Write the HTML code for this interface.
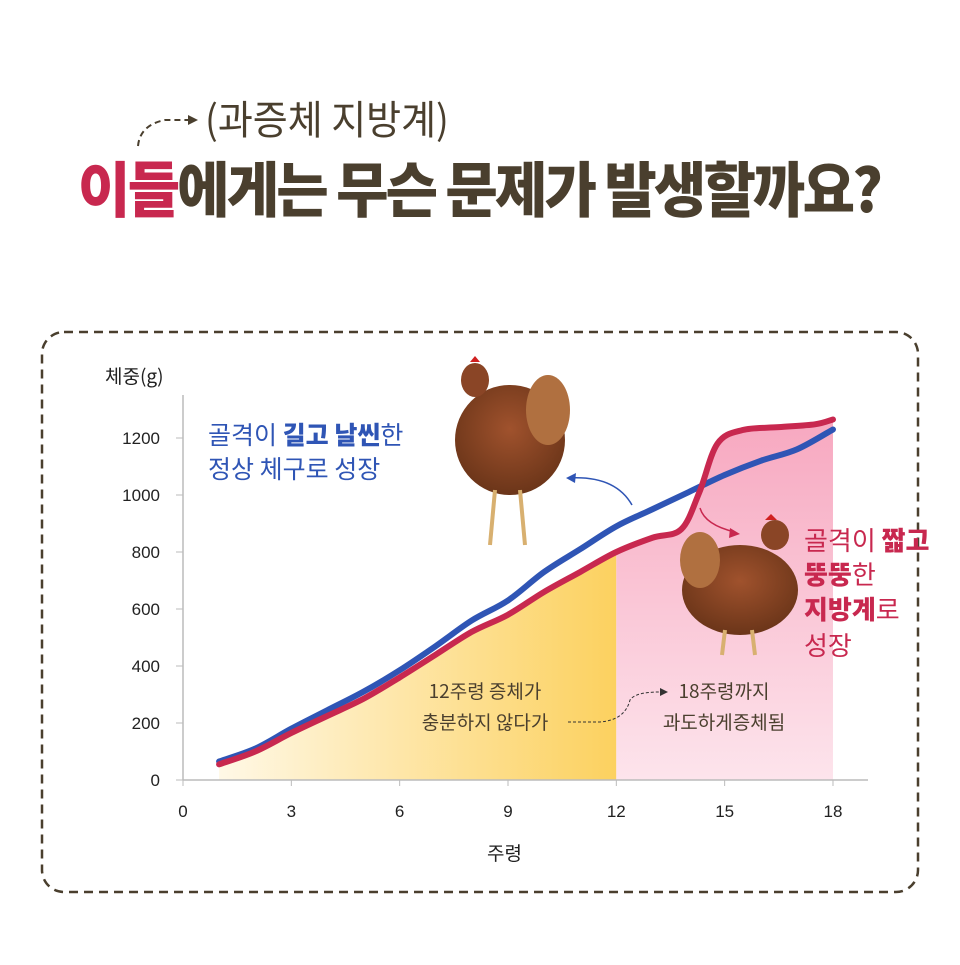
<!DOCTYPE html>
<html><head><meta charset="utf-8"><style>
body{margin:0;background:#fff;width:960px;height:960px;overflow:hidden;font-family:"Liberation Sans","Noto Sans CJK KR",sans-serif}
</style></head><body>
<svg id="s" width="960" height="960" xmlns="http://www.w3.org/2000/svg" font-family="Liberation Sans, Noto Sans CJK KR, sans-serif">
<defs>
<linearGradient id="yg" x1="0" y1="0" x2="1" y2="0"><stop offset="0" stop-color="#fff8e6"/><stop offset="1" stop-color="#fcd15f"/></linearGradient>
<linearGradient id="pg" x1="0" y1="0" x2="0" y2="1"><stop offset="0" stop-color="#f7a8c0"/><stop offset="1" stop-color="#fde4ec"/></linearGradient>
<radialGradient id="ch" cx="0.5" cy="0.4" r="0.6"><stop offset="0" stop-color="#a0522d"/><stop offset="1" stop-color="#6b3519"/></radialGradient>
</defs>
<path d="M138 146 Q140 125 165 120 L188 120" fill="none" stroke="#4a3f2e" stroke-width="2" stroke-dasharray="6,4"/>
<polygon points="188,115 198,120 188,125" fill="#4a3f2e"/>
<g transform="translate(205,134) scale(0.95,1)">
<text x="0" y="0" font-size="40" fill="#4a3f2e" font-family="Noto Sans CJK KR, sans-serif" font-weight="400">(과증체 지방계)</text>
</g>
<g transform="translate(78,212) scale(0.95,1)">
<text x="0" y="0" font-size="60" font-weight="900" font-family="Noto Sans CJK KR, sans-serif" fill="#4a3f2e" letter-spacing="-3"><tspan fill="#c8284f">이들</tspan>에게는 무슨 문제가 발생할까요?</text>
</g>
<rect x="42" y="332" width="876" height="560" rx="22" fill="none" stroke="#4a3f2e" stroke-width="2.5" stroke-dasharray="9,6"/>
<g id="fills"></g>
<line x1="183" y1="395" x2="183" y2="780" stroke="#bbb" stroke-width="1.5"/>
<line x1="183" y1="780" x2="868" y2="780" stroke="#bbb" stroke-width="1.5"/>
<g id="ticks" font-size="17" fill="#222"></g>
<text x="105" y="383" font-size="19" fill="#222" font-family="Noto Sans CJK KR, sans-serif">체중(g)</text>
<text x="487" y="860" font-size="19" fill="#222" font-family="Noto Sans CJK KR, sans-serif">주령</text>
<g id="lines"></g>
<g>
<ellipse cx="510" cy="440" rx="55" ry="55" fill="url(#ch)"/>
<ellipse cx="548" cy="410" rx="22" ry="35" fill="#b07040"/>
<ellipse cx="475" cy="380" rx="14" ry="17" fill="#8a4526"/>
<path d="M470 362 l5 -6 l5 6 z" fill="#d02020"/>
<line x1="495" y1="490" x2="490" y2="545" stroke="#d8b070" stroke-width="4"/>
<line x1="520" y1="490" x2="525" y2="545" stroke="#d8b070" stroke-width="4"/>
</g>
<g>
<ellipse cx="740" cy="590" rx="58" ry="45" fill="url(#ch)"/>
<ellipse cx="700" cy="560" rx="20" ry="28" fill="#b07040"/>
<ellipse cx="775" cy="535" rx="14" ry="15" fill="#8a4526"/>
<path d="M765 520 l6 -6 l6 6 z" fill="#d02020"/>
<line x1="725" y1="630" x2="722" y2="655" stroke="#d8b070" stroke-width="4"/>
<line x1="752" y1="630" x2="755" y2="655" stroke="#d8b070" stroke-width="4"/>
</g>
<path d="M632 505 Q615 475 568 478" fill="none" stroke="#2f55b5" stroke-width="1.5"/>
<polygon points="566,478 576,473 575,483" fill="#2f55b5"/>
<path d="M700 508 Q705 525 735 532" fill="none" stroke="#c8284f" stroke-width="1.5"/>
<polygon points="740,534 730,528 729,538" fill="#c8284f"/>
<text font-size="25" fill="#2f55b5" font-family="Noto Sans CJK KR, sans-serif"><tspan x="208" y="444">골격이 <tspan font-weight="900">길고 날씬</tspan>한</tspan><tspan x="208" y="478">정상 체구로 성장</tspan></text>
<text font-size="26" fill="#c8284f" font-family="Noto Sans CJK KR, sans-serif"><tspan x="804" y="550">골격이 <tspan font-weight="900">짧고</tspan></tspan><tspan x="804" y="584"><tspan font-weight="900">뚱뚱</tspan>한</tspan><tspan x="804" y="619"><tspan font-weight="900">지방계</tspan>로</tspan><tspan x="804" y="655">성장</tspan></text>
<text font-size="19" fill="#4a3f2e" font-family="Noto Sans CJK KR, sans-serif" text-anchor="middle"><tspan x="485" y="698">12주령 증체가</tspan><tspan x="485" y="729">충분하지 않다가</tspan></text>
<text font-size="19" fill="#4a3f2e" font-family="Noto Sans CJK KR, sans-serif" text-anchor="middle"><tspan x="724" y="698">18주령까지</tspan><tspan x="724" y="729">과도하게증체됨</tspan></text>
<path d="M568 722 L600 722 Q625 720 630 700 Q635 692 660 692" fill="none" stroke="#333" stroke-width="1" stroke-dasharray="3,2"/>
<polygon points="660,688 668,692 660,696" fill="#333"/>
</svg>
<script>
var X=w=>183+36.11*w, Y=g=>780-0.285*g;
var blue=[[1,65],[2,110],[3,180],[4,245],[5,310],[6,385],[7,470],[8,560],[9,630],[10,730],[11,810],[12,890],[13,950],[14,1010],[15,1070],[16,1120],[17,1160],[18,1230]];
var red=[[1,55],[2,100],[3,165],[4,225],[5,285],[6,360],[7,440],[8,520],[9,580],[10,660],[11,730],[12,800],[13,850],[13.8,880],[14.3,1010],[14.8,1180],[15.5,1228],[16.5,1238],[17.5,1248],[18,1265]];
function path(p){p=p.map(a=>[X(a[0]),Y(a[1])]);var d="M"+p[0][0]+" "+p[0][1];
for(var i=0;i<p.length-1;i++){var p0=p[i-1]||p[i],p1=p[i],p2=p[i+1],p3=p[i+2]||p2;
d+=" C"+(p1[0]+(p2[0]-p0[0])/6)+" "+(p1[1]+(p2[1]-p0[1])/6)+" "+(p2[0]-(p3[0]-p1[0])/6)+" "+(p2[1]-(p3[1]-p1[1])/6)+" "+p2[0]+" "+p2[1];}return d;}
var ns="http://www.w3.org/2000/svg";
function el(t,a,par){var e=document.createElementNS(ns,t);for(var k in a)e.setAttribute(k,a[k]);document.getElementById(par).appendChild(e);return e;}
var r1=red.filter(a=>a[0]<=12), r2=red.filter(a=>a[0]>=12);
el("path",{d:path(r1)+" L"+X(12)+" 780 L"+X(1)+" 780 Z",fill:"url(#yg)"},"fills");
el("path",{d:path(r2)+" L"+X(18)+" 780 L"+X(12)+" 780 Z",fill:"url(#pg)"},"fills");
el("path",{d:path(blue),fill:"none",stroke:"#2f55b5","stroke-width":6,"stroke-linecap":"round"},"lines");
el("path",{d:path(red),fill:"none",stroke:"#c8284f","stroke-width":6,"stroke-linecap":"round"},"lines");
for(var g=0;g<=1200;g+=200){el("line",{x1:176,x2:183,y1:Y(g),y2:Y(g),stroke:"#bbb"},"ticks");var t=el("text",{x:160,y:Y(g)+6,"text-anchor":"end"},"ticks");t.textContent=g;}
for(var w=0;w<=18;w+=3){el("line",{x1:X(w),x2:X(w),y1:780,y2:786,stroke:"#bbb"},"ticks");var t=el("text",{x:X(w),y:817,"text-anchor":"middle"},"ticks");t.textContent=w;}
</script>
</body></html>
